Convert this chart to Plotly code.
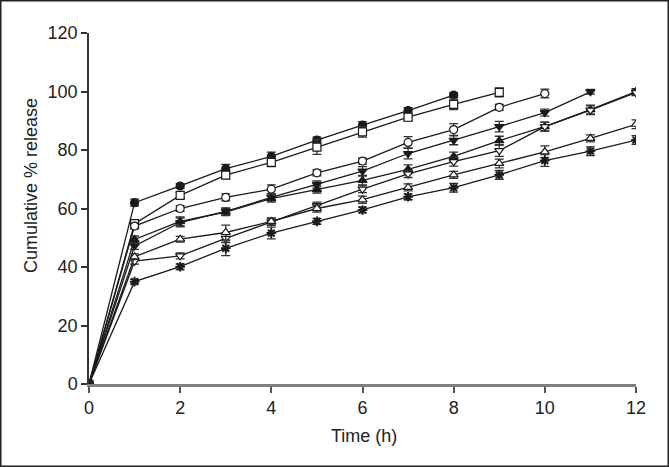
import plotly.graph_objects as go

time_h = [0, 1, 2, 3, 4, 5, 6, 7, 8, 9, 10, 11, 12]

filled_circle = [0, 62.0, 67.7, 73.6, 77.8, 83.4, 88.5, 93.5, 98.8]
open_square = [0, 54.8, 64.5, 71.4, 75.8, 81.0, 86.2, 91.2, 95.6, 99.7]
open_circle = [0, 54.0, 60.0, 63.8, 66.6, 72.2, 76.2, 82.6, 87.0, 94.6, 99.3]
filled_down = [0, 47.2, 55.2, 59.0, 63.8, 68.2, 72.8, 78.8, 83.3, 88.0, 92.8, 99.9]
filled_up = [0, 49.4, 55.6, 58.8, 63.4, 66.5, 69.6, 73.4, 77.8, 83.2, 88.0, 93.8, 100.0]
open_down = [0, 42.0, 43.8, 49.8, 55.4, 61.0, 66.6, 71.8, 76.0, 79.8, 88.0, 93.6, 99.6]
open_up = [0, 43.5, 49.5, 51.8, 55.6, 60.0, 63.0, 67.2, 71.5, 75.4, 79.4, 84.0, 88.8]
asterisk = [0, 35.0, 40.1, 46.4, 51.6, 55.6, 59.5, 64.0, 67.1, 71.5, 76.4, 79.6, 83.4]

err_filled_circle = [0, 1.2, 0.8, 1.5, 1.5, 1.0, 1.2, 1.0, 0.8]
err_open_square = [0, 1.0, 1.0, 1.2, 1.5, 2.5, 1.8, 1.2, 1.8, 1.5]
err_open_circle = [0, 1.0, 1.0, 1.2, 1.5, 1.0, 1.0, 2.0, 2.0, 1.0, 1.5]
err_filled_down = [0, 1.2, 1.5, 1.2, 1.2, 1.2, 1.5, 1.8, 1.5, 1.8, 1.2, 0.8]
err_filled_up = [0, 1.2, 1.5, 1.2, 1.2, 1.2, 1.5, 1.5, 1.5, 1.5, 1.5, 1.5, 1.0]
err_open_down = [0, 1.0, 1.0, 1.5, 1.2, 1.2, 1.2, 1.2, 1.5, 2.0, 1.5, 1.5, 1.0]
err_open_up = [0, 1.0, 1.0, 2.5, 1.2, 1.2, 1.2, 1.2, 1.2, 1.5, 2.0, 1.2, 1.5]
err_asterisk = [0, 0.8, 1.0, 2.5, 2.0, 1.0, 1.0, 1.0, 1.5, 1.5, 2.0, 1.5, 1.5]

series = [
    ("filled circle", filled_circle, err_filled_circle, "circle", "#1a1a1a"),
    ("open square", open_square, err_open_square, "square", "white"),
    ("open circle", open_circle, err_open_circle, "circle", "white"),
    ("filled down triangle", filled_down, err_filled_down, "triangle-down", "#1a1a1a"),
    ("filled up triangle", filled_up, err_filled_up, "triangle-up", "#1a1a1a"),
    ("open down triangle", open_down, err_open_down, "triangle-down", "white"),
    ("open up triangle", open_up, err_open_up, "triangle-up", "white"),
    ("asterisk", asterisk, err_asterisk, "asterisk-open", "#1a1a1a"),
]

fig = go.Figure()
for name, vals, errs, sym, fill in series:
    is_ast = sym == "asterisk-open"
    fig.add_trace(go.Scatter(
        x=time_h[:len(vals)], y=vals, name=name, mode="lines+markers",
        line=dict(color="#1a1a1a", width=1.3),
        marker=dict(symbol=sym, size=8,
                    color=fill, line=dict(color="#1a1a1a", width=2 if is_ast else 1.2)),
        error_y=dict(type="data", array=errs, visible=True, color="#333333", thickness=1.3, width=4.5),
        showlegend=False,
    ))

FONT = "Liberation Sans, Arial, sans-serif"
L, R, T, B = 89, 33, 33, 83
W, H = 669, 467
pw, ph = W - L - R, H - T - B

fig.update_layout(
    width=W, height=H,
    margin=dict(l=L, r=R, t=T, b=B, autoexpand=False),
    paper_bgcolor="white", plot_bgcolor="white",
    font=dict(family=FONT, size=18, color="#222222"),
    xaxis=dict(range=[0, 12], tickvals=[0, 2, 4, 6, 8, 10, 12], showgrid=False, zeroline=False,
               showline=True, linecolor="#808080", linewidth=2.5, ticks="outside", ticklen=6,
               tickcolor="#555555", tickwidth=1.5, tickfont=dict(size=18)),
    yaxis=dict(range=[0, 120], tickvals=[0, 20, 40, 60, 80, 100, 120], showgrid=False, zeroline=False,
               showline=True, linecolor="#333333", linewidth=1.5, ticks="outside", ticklen=6,
               tickcolor="#333333", tickwidth=1.5, tickfont=dict(size=18)),
    annotations=[
        dict(text="Time (h)", xref="paper", yref="paper", x=(364 - L) / pw, y=(T + ph - 436) / ph,
             showarrow=False, xanchor="center", yanchor="middle", font=dict(size=18)),
        dict(text="Cumulative % release", xref="paper", yref="paper", x=(31 - L) / pw,
             y=(T + ph - 186) / ph, textangle=-90,
             showarrow=False, xanchor="center", yanchor="middle", font=dict(size=18)),
    ],
    shapes=[dict(type="rect", xref="paper", yref="paper",
                 x0=-(L - 0.75) / pw, x1=(W - L - 0.75) / pw,
                 y0=-(B - 0.75) / ph, y1=(ph + T - 0.75) / ph,
                 line=dict(color="#222222", width=1.5), fillcolor="rgba(0,0,0,0)")],
)

fig.write_html("out.html", config={"displayModeBar": False},
               post_script="document.body.style.margin='0';document.body.style.overflow='hidden';")
